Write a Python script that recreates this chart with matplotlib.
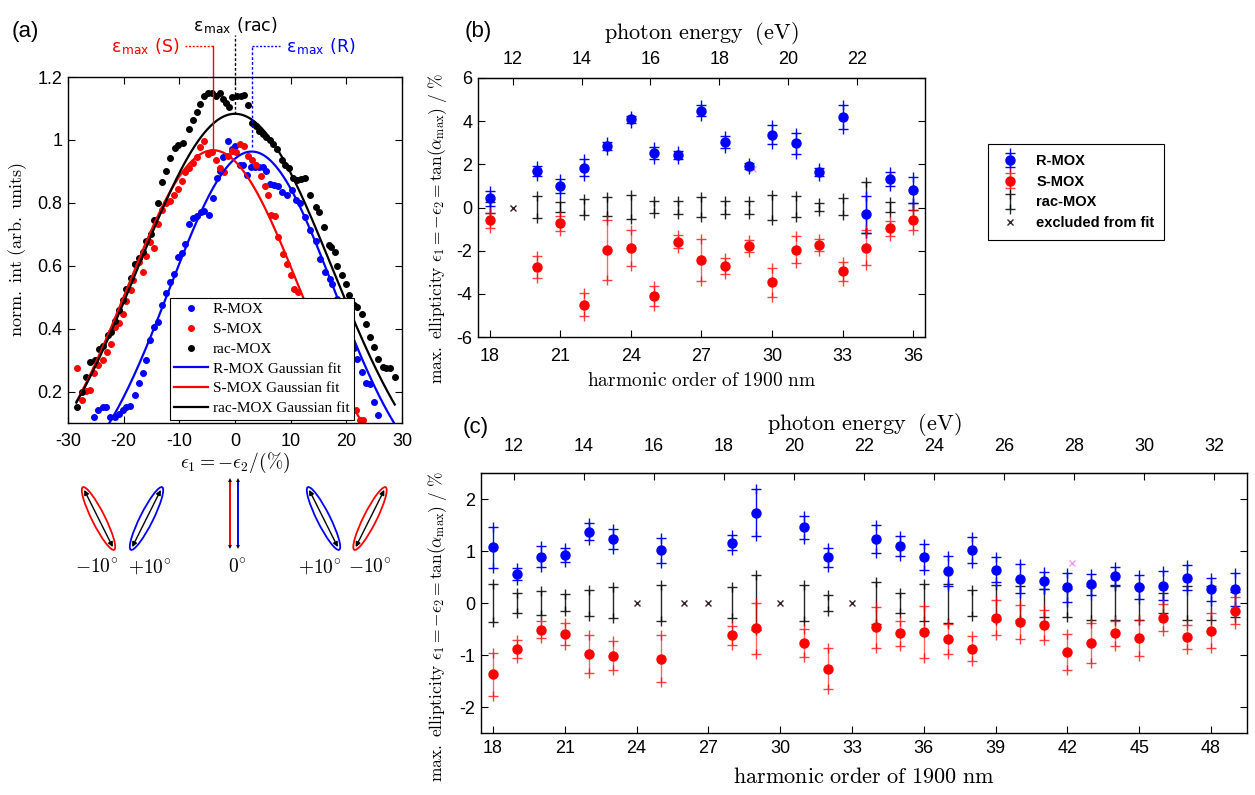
import matplotlib
matplotlib.use('Agg')
import matplotlib.pyplot as plt
import numpy as np
from matplotlib.patches import Ellipse
from matplotlib.lines import Line2D
from matplotlib.container import ErrorbarContainer
from matplotlib.legend_handler import HandlerErrorbar

plt.rcParams['mathtext.fontset'] = 'cm'
plt.rcParams['axes.unicode_minus'] = False
plt.rcParams['font.family'] = ['Liberation Sans', 'DejaVu Sans']

W, H = 1255, 795

# ---------------- panel (a): intensity vs ellipticity ----------------
r_x = [-25.3, -24.55, -23.8, -23.1, -22.4, -21.6, -20.9, -20.2, -19.5, -18.8, -18.0, -17.3,
       -16.6, -15.9, -15.2, -14.5, -13.8, -13.1, -12.4, -11.7, -11.0, -10.3, -9.6, -8.9,
       -8.2, -7.5, -6.8, -6.1, -5.5, -4.7, -4.0, -3.2, -2.7, -2.1, -1.2, -0.6, 0.0, 0.9,
       1.4, 2.1, 2.9, 3.6, 4.3, 5.0, 5.6, 6.3, 7.0, 7.7, 8.4, 9.3, 10.2, 10.9, 11.7, 12.6,
       13.5, 14.5, 15.3, 16.2, 17.0, 17.5, 18.3, 19.0, 19.8, 20.5, 21.3, 21.9, 22.8, 23.5,
       24.2, 25.0, 25.6]
r_y = [0.118, 0.141, 0.150, 0.151, 0.118, 0.120, 0.130, 0.140, 0.150, 0.155, 0.190, 0.228,
       0.260, 0.300, 0.363, 0.406, 0.420, 0.475, 0.514, 0.549, 0.573, 0.628, 0.640, 0.670,
       0.734, 0.753, 0.757, 0.771, 0.775, 0.762, 0.816, 0.880, 0.900, 0.945, 0.998, 0.972,
       0.980, 0.919, 0.920, 0.890, 0.914, 0.914, 0.914, 0.914, 0.900, 0.860, 0.857, 0.855,
       0.834, 0.824, 0.840, 0.808, 0.800, 0.755, 0.713, 0.680, 0.620, 0.580, 0.559, 0.543,
       0.494, 0.467, 0.427, 0.379, 0.337, 0.305, 0.263, 0.228, 0.224, 0.168, 0.125]

s_x = [-28.3, -27.5, -26.8, -26.1, -25.3, -24.55, -23.8, -23.05, -22.3, -21.55, -20.8, -20.2,
       -19.5, -18.7, -18.3, -17.9, -17.3, -16.6, -15.9, -15.2, -14.5, -13.8, -13.1, -12.4,
       -11.7, -11.0, -10.3, -9.6, -8.9, -8.2, -7.5, -6.8, -6.3, -5.5, -4.8, -4.1, -3.4, -2.7,
       -2.0, -1.3, -0.6, 0.2, 0.9, 1.6, 2.3, 3.0, 3.8, 4.6, 5.4, 6.0, 6.5, 7.1, 7.8, 8.6,
       9.3, 10.1, 10.6, 11.3, 20.8, 21.7, 22.5, 23.0]
s_y = [0.274, 0.173, 0.203, 0.205, 0.258, 0.284, 0.300, 0.326, 0.350, 0.406, 0.417, 0.448,
       0.488, 0.522, 0.554, 0.607, 0.612, 0.580, 0.630, 0.676, 0.655, 0.734, 0.776, 0.800,
       0.805, 0.824, 0.845, 0.870, 0.898, 0.910, 0.926, 0.945, 0.977, 0.998, 0.954, 0.960,
       0.937, 0.912, 0.898, 0.950, 0.965, 0.960, 0.986, 0.980, 0.950, 0.935, 0.920, 0.885,
       0.852, 0.824, 0.760, 0.758, 0.690, 0.637, 0.607, 0.572, 0.527, 0.516, 0.186, 0.140,
       0.110, 0.110]

rac_x = [-28.3, -27.4, -26.8, -26.05, -25.2, -24.4, -23.65, -22.9, -22.3, -21.6, -20.8, -20.2,
         -19.5, -18.7, -18.0, -17.3, -16.6, -15.9, -15.1, -14.5, -13.8, -13.1, -12.4, -11.6,
         -10.8, -10.2, -9.4, -8.3, -7.5, -6.8, -6.3, -5.6, -4.8, -4.1, -3.4, -2.7, -2.1, -1.6,
         -1.1, -0.5, 0.3, 1.0, 1.7, 2.3, 3.0, 3.8, 4.4, 5.0, 5.6, 6.3, 6.9, 7.5, 8.4, 9.0,
         9.7, 10.4, 11.1, 11.8, 12.5, 13.4, 14.6, 15.0, 15.9, 16.8, 17.3, 18.0, 18.4, 19.2,
         19.9, 20.5, 21.4, 21.9, 22.9, 23.5, 24.2, 25.0, 25.7, 26.5, 27.2, 27.9, 28.7]
rac_y = [0.151, 0.198, 0.247, 0.295, 0.300, 0.335, 0.345, 0.380, 0.390, 0.423, 0.460, 0.490,
         0.525, 0.560, 0.604, 0.623, 0.644, 0.679, 0.702, 0.744, 0.800, 0.866, 0.900, 0.943,
         0.975, 0.985, 0.990, 1.035, 1.064, 1.090, 1.113, 1.141, 1.150, 1.150, 1.140, 1.150,
         1.130, 1.118, 1.106, 1.138, 1.140, 1.140, 1.143, 1.110, 1.055, 1.043, 1.028, 1.018,
         1.010, 1.000, 0.988, 0.970, 0.935, 0.920, 0.910, 0.880, 0.872, 0.875, 0.878, 0.824,
         0.787, 0.770, 0.723, 0.665, 0.660, 0.645, 0.600, 0.570, 0.543, 0.506, 0.475, 0.470,
         0.446, 0.416, 0.374, 0.342, 0.302, 0.279, 0.275, 0.275, 0.247]

# Gaussian fit parameters (amplitude, centre, width, offset) for R, S, rac
fit_amp = [1.113, 1.117, 1.250]
fit_center = [3.0, -3.9, 0.0]
fit_sigma = [14.8, 15.5, 17.5]
fit_offset = [-0.150, -0.150, -0.167]

# ---------------- panel (b): 1900 nm, harmonics 18-36 ----------------
b_h = [18, 20, 21, 22, 23, 24, 25, 26, 27, 28, 29, 30, 31, 32, 33, 34, 35, 36]
b_R = [0.42, 1.70, 1.00, 1.85, 2.85, 4.08, 2.52, 2.45, 4.48, 3.02, 1.92, 3.38, 2.98, 1.64, 4.20, -0.32, 1.32, 0.80]
b_R_err = [0.33, 0.24, 0.31, 0.39, 0.17, 0.16, 0.28, 0.18, 0.25, 0.28, 0.13, 0.45, 0.49, 0.20, 0.56, 0.87, 0.34, 0.60]
b_S = [-0.60, -2.77, -0.74, -4.50, -1.98, -1.88, -4.10, -1.58, -2.42, -2.72, -1.78, -3.47, -1.95, -1.74, -2.96, -1.86, -0.97, -0.58]
b_S_err = [0.33, 0.51, 0.35, 0.53, 1.40, 0.83, 0.45, 0.31, 0.97, 0.37, 0.27, 0.68, 0.61, 0.29, 0.43, 0.80, 0.33, 0.48]
b_rac = [0.0, 0.02, 0.01, 0.02, 0.04, 0.01, 0.02, 0.01, 0.01, 0.01, 0.01, 0.0, 0.04, 0.02, 0.04, 0.01, 0.01, 0.04]
b_rac_err = [0.25, 0.50, 0.23, 0.38, 0.44, 0.55, 0.27, 0.29, 0.47, 0.31, 0.29, 0.56, 0.48, 0.20, 0.38, 1.17, 0.23, 0.16]
b_excl_h = [19]
b_excl_v = [0.0]
b_pink_h = [29.2]
b_pink_v = [1.78]
b_top_ticks = [12, 14, 16, 18, 20, 22]

# ---------------- panel (c): harmonics 18-49 ----------------
c_h = [18, 19, 20, 21, 22, 23, 25, 28, 29, 31, 32, 34, 35, 36, 37, 38, 39, 40, 41, 42, 43,
       44, 45, 46, 47, 48, 49]
c_R = [1.07, 0.56, 0.89, 0.92, 1.37, 1.23, 1.01, 1.16, 1.74, 1.46, 0.88, 1.23, 1.09, 0.88,
       0.62, 1.02, 0.64, 0.47, 0.43, 0.30, 0.36, 0.52, 0.30, 0.33, 0.49, 0.26, 0.26]
c_R_err = [0.40, 0.12, 0.20, 0.13, 0.16, 0.20, 0.24, 0.15, 0.45, 0.22, 0.18, 0.27, 0.19,
           0.25, 0.29, 0.25, 0.24, 0.28, 0.16, 0.28, 0.20, 0.18, 0.23, 0.28, 0.24, 0.22, 0.32]
c_S = [-1.37, -0.88, -0.51, -0.59, -0.98, -1.01, -1.07, -0.62, -0.49, -0.77, -1.26, -0.47,
       -0.58, -0.56, -0.70, -0.88, -0.28, -0.37, -0.42, -0.94, -0.77, -0.58, -0.67, -0.28,
       -0.66, -0.53, -0.15]
c_S_err = [0.41, 0.17, 0.17, 0.21, 0.37, 0.27, 0.45, 0.18, 0.49, 0.27, 0.39, 0.39, 0.24,
           0.50, 0.29, 0.24, 0.34, 0.33, 0.29, 0.34, 0.38, 0.24, 0.35, 0.26, 0.23, 0.34, 0.26]
c_rac = [0.0, 0.0, 0.0, 0.01, 0.0, 0.01, 0.0, 0.01, 0.01, 0.0, 0.0, 0.0, 0.0, 0.01, -0.01,
         0.0, 0.01, 0.0, 0.0, 0.0, 0.0, 0.0, 0.0, 0.0, 0.0, 0.0, -0.02]
c_rac_err = [0.36, 0.20, 0.24, 0.17, 0.25, 0.30, 0.35, 0.30, 0.53, 0.35, 0.16, 0.40, 0.20,
             0.36, 0.38, 0.25, 0.34, 0.33, 0.26, 0.26, 0.33, 0.32, 0.32, 0.20, 0.32, 0.32, 0.24]
c_excl_h = [24, 26, 27, 30, 33]
c_excl_v = [0.0, 0.0, 0.0, 0.0, 0.0]
c_pink_h = [42.2]
c_pink_v = [0.76]
c_top_ticks = [12, 14, 16, 18, 20, 22, 24, 26, 28, 30, 32]

BLUE = '#0000ff'
RED = '#ff0000'
EXCL = '#3b1f2b'
PINK = '#ff9cf0'
SERIF = ['Liberation Serif', 'DejaVu Serif']


def rect(x0, y0, x1, y1):
    # pixel box -> figure fraction
    return [x0 / W, 1 - y1 / H, (x1 - x0) / W, (y1 - y0) / H]


def gauss(x, i):
    return fit_amp[i] * np.exp(-(x - fit_center[i]) ** 2 / (2 * fit_sigma[i] ** 2)) + fit_offset[i]


class PlusCaps(HandlerErrorbar):
    def create_artists(self, *args, **kwargs):
        arts = super().create_artists(*args, **kwargs)
        for a in arts:
            if isinstance(a, Line2D) and a.get_marker() == '_':
                a.set_marker('+')
                a.set_markersize(7)
        return arts


def ellipticity_series(ax, h, v, err, color, marker, alpha=1.0, z=2):
    eb = ax.errorbar(h, v, yerr=err, fmt='o' if marker else 'none', color=color, ms=6.5,
                     elinewidth=1.0, capsize=3.5, capthick=1.0, zorder=z)
    for c in eb[1]:
        c.set_marker('+')
        c.set_markersize(6.5)
        c.set_alpha(alpha)
    for c in eb[2]:
        c.set_alpha(alpha)
    return eb


def style_axes(ax, xpad, ypad):
    ax.tick_params(direction='in', length=5, width=0.8, labelsize=13, top=False, right=True)
    ax.tick_params(axis='x', pad=xpad)
    ax.tick_params(axis='y', pad=ypad)
    for sp in ax.spines.values():
        sp.set_linewidth(1.0)


fig = plt.figure(figsize=(W / 100, H / 100), dpi=100)

# ---------------- ellipse sketches under panel (a) ----------------
ax_s = fig.add_axes([0, 0, 1, 1], zorder=0)
ax_s.set_xlim(0, W)
ax_s.set_ylim(H, 0)
ax_s.axis('off')
sketch = [(98.5, RED, 63.4), (146.5, BLUE, 116.6), (323.5, BLUE, 63.4), (370.0, RED, 116.6)]
for cx, col, ang in sketch:
    ax_s.add_patch(Ellipse((cx, 518.5), 70, 13, angle=ang, fill=False, ec=col, lw=1.3))
    dx = 32 * np.cos(np.radians(ang))
    dy = 32 * np.sin(np.radians(ang))
    ax_s.annotate('', xy=(cx + dx, 518.5 + dy), xytext=(cx - dx, 518.5 - dy),
                  arrowprops=dict(arrowstyle='<|-|>', color='black', lw=1.0,
                                  mutation_scale=7, shrinkA=0, shrinkB=0))
for xa, col in [(230, RED), (238, BLUE)]:
    ax_s.annotate('', xy=(xa, 478), xytext=(xa, 549),
                  arrowprops=dict(arrowstyle='<|-|>', color='black', lw=0.0,
                                  mutation_scale=7, shrinkA=0, shrinkB=0))
    ax_s.plot([xa, xa], [482, 545], color=col, lw=1.4)
for xt, lab in [(97, r'$-10^{\circ}$'), (150, r'$+10^{\circ}$'), (237, r'$0^{\circ}$'),
                (320, r'$+10^{\circ}$'), (370, r'$-10^{\circ}$')]:
    ax_s.text(xt, 568, lab, ha='center', va='center', fontsize=14)

# ---------------- panel (a) ----------------
ax_a = fig.add_axes(rect(68, 77, 402, 423), zorder=2)
x_fit = np.linspace(-28.5, 28.7, 300)
ax_a.plot(r_x, r_y, 'o', color=BLUE, ms=4, ls='none', label='R-MOX')
ax_a.plot(s_x, s_y, 'o', color=RED, ms=4, ls='none', label='S-MOX')
ax_a.plot(rac_x, rac_y, 'o', color='black', ms=4, ls='none', label='rac-MOX')
ax_a.plot(x_fit, gauss(x_fit, 0), color=BLUE, lw=1.6, label='R-MOX Gaussian fit')
ax_a.plot(x_fit, gauss(x_fit, 1), color=RED, lw=1.6, label='S-MOX Gaussian fit')
ax_a.plot(x_fit, gauss(x_fit, 2), color='black', lw=1.6, label='rac-MOX Gaussian fit')
ax_a.set_xlim(-30, 30)
ax_a.set_ylim(0.1, 1.2)
ax_a.set_xticks([-30, -20, -10, 0, 10, 20, 30])
ax_a.set_yticks([0.2, 0.4, 0.6, 0.8, 1.0, 1.2])
ax_a.set_yticklabels(['0.2', '0.4', '0.6', '0.8', '1', '1.2'])
style_axes(ax_a, 7, 4)
ax_a.tick_params(top=True)
ax_a.set_xlabel(r'$\epsilon_1 = -\epsilon_2/(\%)$', fontsize=14, labelpad=1)
ax_a.set_ylabel(r'$\mathrm{norm.\ int\ (arb.\ units)}$', fontsize=13, labelpad=6)
leg_a = ax_a.legend(loc='lower left', bbox_to_anchor=(0.305, 0.009), borderaxespad=0,
                    prop=dict(family=SERIF, size=11), fancybox=False, edgecolor='black',
                    framealpha=1, handlelength=2.2, labelspacing=0.4, borderpad=0.3,
                    handletextpad=0.3, numpoints=1)
leg_a.get_frame().set_linewidth(0.8)
leg_a.set_zorder(5)

# epsilon_max markers above panel (a)
y_bar = 1.298
peak_R = fit_amp[0] + fit_offset[0]
peak_S = fit_amp[1] + fit_offset[1]
peak_rac = fit_amp[2] + fit_offset[2]
ax_a.plot([fit_center[1], fit_center[1]], [peak_S, y_bar], color=RED, lw=1.0, clip_on=False)
ax_a.plot([fit_center[1], -9.0], [y_bar, y_bar], color=RED, lw=1.0, ls=(0, (1.5, 1.2)), clip_on=False)
ax_a.plot([fit_center[0], fit_center[0]], [peak_R + 0.014, y_bar], color=BLUE, lw=1.0,
          ls=(0, (2, 1.5)), clip_on=False)
ax_a.plot([fit_center[0], 8.1], [y_bar, y_bar], color=BLUE, lw=1.0, ls=(0, (1.5, 1.2)), clip_on=False)
ax_a.plot([fit_center[2], fit_center[2]], [peak_rac, 1.332], color='black', lw=1.0,
          ls=(0, (2, 1.5)), clip_on=False)
ax_a.text(-10.0, y_bar, r'ε$_\mathregular{max}$ (S)', color=RED, ha='right', va='center',
          fontsize=12.5, family='DejaVu Sans')
ax_a.text(9.2, y_bar, r'ε$_\mathregular{max}$ (R)', color=BLUE, ha='left', va='center',
          fontsize=12.5, family='DejaVu Sans')
ax_a.text(0.0, 1.330, r'ε$_\mathregular{max}$ (rac)', color='black', ha='center', va='bottom',
          fontsize=12.5, family='DejaVu Sans')


# ---------------- panels (b) and (c) ----------------
def ellipticity_panel(box, h, R, R_err, S, S_err, rac, rac_err, excl_h, excl_v, pink_h, pink_v,
                      xlim, ylim, xticks, yticks, top_ticks, h12, pads, label_sizes, ylab_pos):
    ax = fig.add_axes(rect(*box), zorder=2)
    eR = ellipticity_series(ax, h, R, R_err, BLUE, True, z=3)
    eS = ellipticity_series(ax, h, S, S_err, RED, True, alpha=0.75, z=3)
    eS[2][0].set_alpha(0.6)
    eK = ellipticity_series(ax, h, rac, rac_err, 'black', False, alpha=0.85, z=2)
    ex, = ax.plot(excl_h, excl_v, 'x', color=EXCL, ms=4, mew=1.0, ls='none')
    ax.plot(pink_h, pink_v, 'x', color=PINK, ms=5, mew=1.0, ls='none')
    ax.set_xlim(*xlim)
    ax.set_ylim(*ylim)
    ax.set_xticks(xticks)
    ax.set_yticks(yticks)
    xpad, toppad, xlabpad, toplabpad = pads
    style_axes(ax, xpad, 4)
    ax.set_xlabel(r'$\mathrm{harmonic\ order\ of\ 1900\ nm}$', fontsize=label_sizes[0],
                  labelpad=xlabpad)
    ax.set_ylabel(r'$\mathrm{max.\ ellipticity}\ \epsilon_1 = -\epsilon_2 = '
                  r'\tan(\alpha_{\mathrm{max}})\ /\ \%$', fontsize=12.5)
    ax.yaxis.set_label_coords(ylab_pos[0] / (box[2] - box[0]), ylab_pos[1])
    top = ax.secondary_xaxis('top', functions=(lambda x: 12 + (x - h12) / 1.463,
                                               lambda e: h12 + (e - 12) * 1.463))
    top.set_xticks(top_ticks)
    top.tick_params(direction='in', length=5, width=0.8, labelsize=13, pad=toppad)
    top.set_xlabel(r'$\mathrm{photon\ energy\ \ (eV)}$', fontsize=label_sizes[1],
                   labelpad=toplabpad)
    return ax, eR, eS, eK, ex


ax_b, eR, eS, eK, ex = ellipticity_panel(
    (478, 78, 925, 337), b_h, b_R, b_R_err, b_S, b_S_err, b_rac, b_rac_err,
    b_excl_h, b_excl_v, b_pink_h, b_pink_v, (17.5, 36.5), (-6, 6),
    [18, 21, 24, 27, 30, 33, 36], [-6, -4, -2, 0, 2, 4, 6], b_top_ticks, 18.98,
    (8, 7, 5, 9), (14, 16), (-29, 0.42))

ax_c, _, _, _, _ = ellipticity_panel(
    (481, 473, 1247, 733), c_h, c_R, c_R_err, c_S, c_S_err, c_rac, c_rac_err,
    c_excl_h, c_excl_v, c_pink_h, c_pink_v, (17.5, 49.5), (-2.5, 2.5),
    [18, 21, 24, 27, 30, 33, 36, 39, 42, 45, 48], [-2, -1, 0, 1, 2], c_top_ticks, 18.86,
    (5, 13, 7, 6), (16, 16), (-32, 0.41))

leg_b = fig.legend([eR, eS, eK, ex], ['R-MOX', 'S-MOX', 'rac-MOX', 'excluded from fit'],
                   loc='upper left', bbox_to_anchor=(988 / W, 1 - 144 / H), borderaxespad=0,
                   prop=dict(family='Liberation Sans', weight='bold', size=10.5),
                   fancybox=False, edgecolor='black', framealpha=1, handlelength=1.6,
                   handler_map={ErrorbarContainer: PlusCaps()}, labelspacing=0.45,
                   borderpad=0.7, handletextpad=1.0)
leg_b.get_frame().set_linewidth(0.8)

for lab, px, py in [('(a)', 12, 31), ('(b)', 465, 32), ('(c)', 463, 428)]:
    fig.text(px / W, 1 - py / H, lab, fontsize=16, ha='left', va='center')

fig.savefig('out.png', dpi=100)
